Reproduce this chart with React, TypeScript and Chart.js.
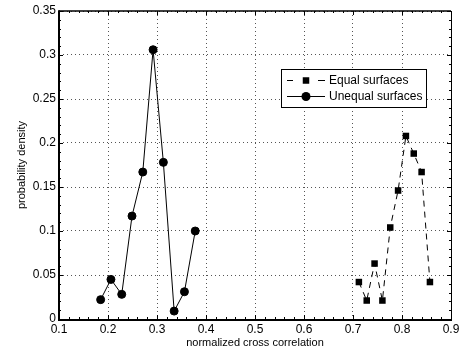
import React, { useEffect, useRef } from "react";
import { Chart, registerables } from "chart.js";

Chart.register(...registerables);

const seriesNames = ["Equal surfaces", "Unequal surfaces"];
const equalX = [0.712, 0.728, 0.744, 0.76, 0.776, 0.792, 0.808, 0.824, 0.84, 0.857];
const equalY = [0.042, 0.021, 0.063, 0.021, 0.104, 0.146, 0.208, 0.188, 0.167, 0.042];
const unequalX = [0.185, 0.206, 0.228, 0.249, 0.271, 0.292, 0.313, 0.335, 0.356, 0.378];
const unequalY = [0.022, 0.045, 0.028, 0.117, 0.167, 0.306, 0.178, 0.009, 0.031, 0.1];
const xTicks = [0.1, 0.2, 0.3, 0.4, 0.5, 0.6, 0.7, 0.8, 0.9];
const yTicks = [0, 0.05, 0.1, 0.15, 0.2, 0.25, 0.3, 0.35];
const xTitle = "normalized cross correlation";
const yTitle = "probability density";

const FONT = "'Liberation Sans', Arial, Helvetica, sans-serif";

const fmt = (v: number) => String(parseFloat(v.toFixed(2)));

const framePlugin = {
  id: "matlabFrame",
  afterDatasetsDraw(chart: any) {
    const { ctx, chartArea } = chart;
    const { left, right, top, bottom } = chartArea;
    const xs = chart.scales.x;
    const ys = chart.scales.y;
    ctx.save();
    ctx.strokeStyle = "#000";
    ctx.setLineDash([]);
    // minor + major ticks
    ctx.lineWidth = 1;
    const xMin = xTicks[0], xMax = xTicks[xTicks.length - 1];
    const yMin = yTicks[0], yMax = yTicks[yTicks.length - 1];
    for (let i = 0; i <= Math.round((xMax - xMin) / 0.02); i++) {
      const v = xMin + i * 0.02;
      const px = Math.round(xs.getPixelForValue(v)) + 0.5;
      const major = i % 5 === 0;
      const len = major ? 4 : 2;
      ctx.beginPath();
      ctx.moveTo(px, bottom);
      ctx.lineTo(px, bottom - len);
      ctx.moveTo(px, top);
      ctx.lineTo(px, top + len);
      ctx.stroke();
    }
    for (let i = 0; i <= Math.round((yMax - yMin) / 0.01); i++) {
      const v = yMin + i * 0.01;
      const py = Math.round(ys.getPixelForValue(v)) + 0.5;
      const major = i % 5 === 0;
      const len = major ? 4 : 2;
      ctx.beginPath();
      ctx.moveTo(left, py);
      ctx.lineTo(left + len, py);
      ctx.moveTo(right, py);
      ctx.lineTo(right - len, py);
      ctx.stroke();
    }
    // frame
    ctx.lineWidth = 1.5;
    ctx.beginPath();
    ctx.moveTo(left, top);
    ctx.lineTo(right, top);
    ctx.stroke();
    ctx.lineWidth = 1;
    ctx.beginPath();
    ctx.moveTo(right + 0.5, top);
    ctx.lineTo(right + 0.5, bottom);
    ctx.stroke();
    ctx.lineWidth = 2;
    ctx.beginPath();
    ctx.moveTo(left, top - 0.75);
    ctx.lineTo(left, bottom + 1);
    ctx.lineTo(right + 1, bottom + 1);
    ctx.stroke();

    // legend
    const bx = 281, by = 69, bw = 145, bh = 38;
    ctx.fillStyle = "#fff";
    ctx.fillRect(bx, by, bw, bh);
    ctx.lineWidth = 1;
    ctx.strokeRect(bx + 0.5, by + 0.5, bw, bh);
    const rows = [by + 11.5, by + 27.5];
    chart.data.datasets.forEach((ds: any, i: number) => {
      const y = rows[i];
      ctx.strokeStyle = ds.borderColor;
      ctx.lineWidth = ds.borderWidth;
      ctx.setLineDash(ds.borderDash || []);
      ctx.beginPath();
      if (ds.borderDash && ds.borderDash.length) {
        ctx.setLineDash([]);
        ctx.moveTo(287, y);
        ctx.lineTo(293, y);
        ctx.moveTo(318, y);
        ctx.lineTo(325, y);
      } else {
        ctx.moveTo(287, y);
        ctx.lineTo(325, y);
      }
      ctx.stroke();
      ctx.setLineDash([]);
      ctx.fillStyle = ds.pointBackgroundColor;
      if (ds.pointStyle === "rect") {
        const s = 6.5;
        ctx.fillRect(306 - s / 2, y - s / 2, s, s);
      } else {
        ctx.beginPath();
        ctx.arc(306, y, 4.5, 0, Math.PI * 2);
        ctx.fill();
      }
      ctx.fillStyle = "#000";
      ctx.font = "12px " + FONT;
      ctx.textBaseline = "middle";
      ctx.textAlign = "left";
      ctx.fillText(ds.label, 329, y);
    });
    ctx.restore();
  },
};

export default function App() {
  const ref = useRef<HTMLCanvasElement>(null);
  useEffect(() => {
    if (!ref.current) return;
    const chart = new Chart(ref.current, {
      type: "line",
      data: {
        datasets: [
          {
            label: seriesNames[0],
            data: equalX.map((x, i) => ({ x, y: equalY[i] })),
            borderColor: "#000",
            borderWidth: 1,
            borderDash: [6, 5],
            pointStyle: "rect",
            pointRadius: 4.6,
            pointBorderWidth: 0,
            pointBackgroundColor: "#000",
            pointBorderColor: "#000",
            tension: 0,
            fill: false,
          },
          {
            label: seriesNames[1],
            data: unequalX.map((x, i) => ({ x, y: unequalY[i] })),
            borderColor: "#000",
            borderWidth: 1,
            pointStyle: "circle",
            pointRadius: 4,
            pointBorderWidth: 1,
            pointBackgroundColor: "#000",
            pointBorderColor: "#000",
            tension: 0,
            fill: false,
          },
        ],
      },
      options: {
        animation: false,
        responsive: false,
        layout: { padding: { top: 11, right: 15, left: 0, bottom: 0 } },
        plugins: {
          legend: { display: false },
          tooltip: { enabled: false },
        },
        scales: {
          x: {
            type: "linear",
            min: xTicks[0],
            max: xTicks[xTicks.length - 1],
            afterBuildTicks: (s: any) => {
              s.ticks = xTicks.map((v) => ({ value: v }));
            },
            afterFit: (s: any) => {
              s.height = 34;
            },
            ticks: {
              color: "#000",
              padding: 3,
              maxRotation: 0,
              autoSkip: false,
              font: { family: FONT, size: 12 },
              callback: (v: any) => fmt(Number(v)),
            },
            grid: {
              color: "#555",
              lineWidth: 1,
              drawTicks: false,
              tickBorderDash: [],
            },
            border: { display: false, dash: [1, 3] },
            title: {
              display: true,
              text: xTitle,
              color: "#000",
              font: { family: FONT, size: 11 },
              padding: { top: 0, bottom: 3 },
            },
          },
          y: {
            type: "linear",
            min: yTicks[0],
            max: yTicks[yTicks.length - 1],
            afterBuildTicks: (s: any) => {
              s.ticks = yTicks.map((v) => ({ value: v }));
            },
            afterFit: (s: any) => {
              s.width = 59;
            },
            ticks: {
              color: "#000",
              padding: 3,
              autoSkip: false,
              font: { family: FONT, size: 12 },
              callback: (v: any) => fmt(Number(v)),
            },
            grid: {
              color: "#555",
              lineWidth: 1,
              drawTicks: false,
            },
            border: { display: false, dash: [1, 3] },
            title: {
              display: true,
              text: yTitle,
              color: "#000",
              font: { family: FONT, size: 11 },
              padding: { top: 15, bottom: 0 },
            },
          },
        },
      },
      plugins: [framePlugin],
    } as any);
    return () => chart.destroy();
  }, []);
  return (
    <div style={{ position: "absolute", left: 0, top: 0, width: 466, height: 353, background: "#fff" }}>
      <canvas ref={ref} width={466} height={353} style={{ display: "block" }} />
    </div>
  );
}
